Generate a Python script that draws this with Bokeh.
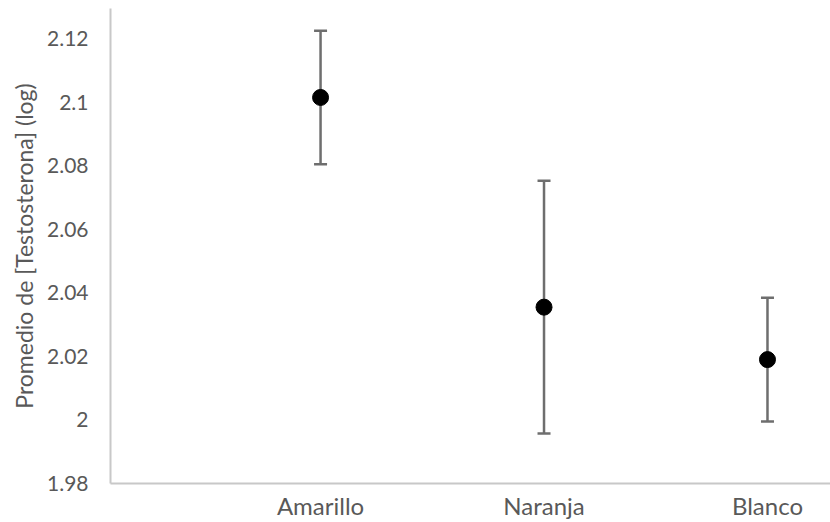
from bokeh.plotting import figure
from bokeh.models import Range1d, FixedTicker, ColumnDataSource, Whisker, TeeHead
from bokeh.embed import file_html
from bokeh.resources import INLINE

categories = ["Amarillo", "Naranja", "Blanco"]
positions = [1, 2, 3]
means = [2.1015, 2.0355, 2.0190]
errors = [0.0210, 0.0398, 0.0195]
y_ticks = [1.98, 2.0, 2.02, 2.04, 2.06, 2.08, 2.1, 2.12]
y_tick_labels = ["1.98", "2", "2.02", "2.04", "2.06", "2.08", "2.1", "2.12"]

src = ColumnDataSource(dict(
    x=positions, y=means,
    upper=[m + e for m, e in zip(means, errors)],
    lower=[m - e for m, e in zip(means, errors)],
))

p = figure(width=830, height=522, output_backend="svg", toolbar_location=None,
           x_range=Range1d(0.06, 3.282), y_range=Range1d(1.98, 2.1295),
           min_border_left=110, min_border_right=0, min_border_top=8, min_border_bottom=38)
p.outline_line_color = None
p.xgrid.grid_line_color = None
p.ygrid.grid_line_color = None
p.background_fill_color = "white"
p.border_fill_color = "white"

font = "Lato"
label_color = "#595959"
axis_color = "#c8c8c8"

# Y axis
ya = p.yaxis[0]
ya.ticker = FixedTicker(ticks=y_ticks)
ya.major_label_overrides = {t: l for t, l in zip(y_ticks, y_tick_labels)}
ya.axis_line_color = axis_color
ya.axis_line_width = 2
ya.major_tick_line_color = None
ya.minor_tick_line_color = None
ya.major_tick_in = 0
ya.major_tick_out = 0
ya.major_label_standoff = 22
ya.major_label_text_font = font
ya.major_label_text_font_size = "21px"
ya.major_label_text_color = label_color
ya.axis_label = "Promedio de [Testosterona] (log)"
ya.axis_label_text_font = font
ya.axis_label_text_font_size = "23px"
ya.axis_label_text_font_style = "normal"
ya.axis_label_text_color = label_color
ya.axis_label_standoff = 6

# X axis
xa = p.xaxis[0]
xa.ticker = FixedTicker(ticks=positions)
xa.major_label_overrides = {x: c for x, c in zip(positions, categories)}
xa.axis_line_color = axis_color
xa.axis_line_width = 2
xa.major_tick_line_color = None
xa.minor_tick_line_color = None
xa.major_tick_in = 0
xa.major_tick_out = 0
xa.major_label_standoff = 7
xa.major_label_text_font = font
xa.major_label_text_font_size = "24px"
xa.major_label_text_color = label_color

w = Whisker(source=src, base="x", upper="upper", lower="lower",
            line_color="#6e6e6e", line_width=2.5,
            upper_head=TeeHead(size=13, line_color="#6e6e6e", line_width=2.5),
            lower_head=TeeHead(size=13, line_color="#6e6e6e", line_width=2.5))
p.add_layout(w)

p.scatter(x="x", y="y", source=src, size=16, marker="circle",
          fill_color="black", line_color="black")

open("out.html", "w").write(file_html(p, INLINE))
